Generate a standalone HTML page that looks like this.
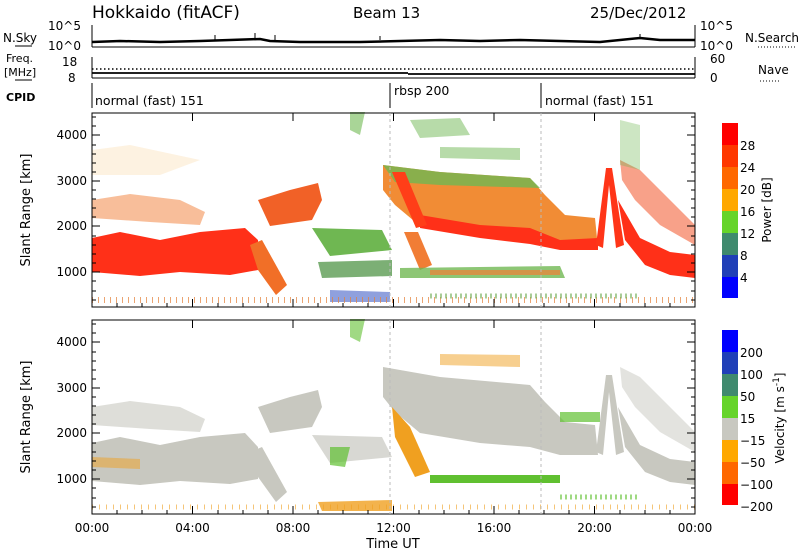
<!DOCTYPE html>
<html><head><meta charset="utf-8"><style>
body{margin:0;background:#fff;}
svg{display:block;font-family:"DejaVu Sans","Liberation Sans",sans-serif;}
</style></head><body>
<svg width="800" height="554" viewBox="0 0 800 554" xmlns="http://www.w3.org/2000/svg">
<defs>
<g id="blobs">
 <!-- clutter near ground -->
 <path d="M92,300 H695" stroke="#e07020" stroke-width="6" stroke-dasharray="1 6" opacity="0.7"/>
 <path d="M300,296 H400 M560,296 H640" stroke="#c8a040" stroke-width="4" stroke-dasharray="2 4" opacity="0.6"/>
</g>
</defs>

<!-- Titles -->
<text x="92" y="18" font-size="17">Hokkaido (fitACF)</text>
<text x="353" y="18" font-size="15">Beam 13</text>
<text x="590" y="18" font-size="15">25/Dec/2012</text>

<!-- N.Sky panel -->
<g font-size="12" fill="#000">
<text x="3" y="42">N.Sky</text><line x1="15" y1="46" x2="32" y2="46" stroke="#000"/>
<text x="48" y="30">10^5</text><text x="48" y="50">10^0</text>
<text x="6" y="62" font-size="11">Freq.</text><text x="4" y="76" font-size="11">[MHz]</text><line x1="15" y1="80" x2="32" y2="80" stroke="#000"/>
<text x="62" y="66">18</text><text x="68" y="82">8</text>
<text x="6" y="101" font-weight="bold" font-size="11">CPID</text>
<text x="700" y="30">10^5</text><text x="700" y="50">10^0</text>
<text x="710" y="63">60</text><text x="710" y="82">0</text>
<text x="745" y="42">N.Search</text>
<line x1="758" y1="47" x2="795" y2="47" stroke="#000" stroke-dasharray="1 2"/>
<text x="758" y="74">Nave</text>
<line x1="760" y1="81" x2="780" y2="81" stroke="#000" stroke-dasharray="1 2"/>
</g>
<line x1="92" y1="25" x2="92" y2="47" stroke="#000"/>
<line x1="695" y1="25" x2="695" y2="47" stroke="#000"/>
<line x1="92" y1="47" x2="695" y2="47" stroke="#000"/>
<path d="M92,42 L120,41 L160,42 L200,41 L230,40 L260,39 L270,41 L300,42 L360,42 L400,41 L440,40 L480,41 L520,40 L560,41 L600,42 L620,40 L640,38 L660,40 L695,40" fill="none" stroke="#000" stroke-width="2.5"/>
<path d="M215,40V35 M255,40V33 M275,40V35 M380,40V36 M640,38V34" stroke="#000"/>
<line x1="92" y1="57" x2="92" y2="78" stroke="#000"/>
<line x1="695" y1="57" x2="695" y2="78" stroke="#000"/>
<line x1="92" y1="78" x2="695" y2="78" stroke="#000"/>
<line x1="92" y1="69" x2="695" y2="69" stroke="#000" stroke-dasharray="1.5 2.5" stroke-width="1.5"/>
<path d="M92,73 H408 M408,74 H695" stroke="#000" stroke-width="1.8"/>
<!-- CPID -->
<line x1="92" y1="83" x2="92" y2="108" stroke="#000"/>
<line x1="390" y1="83" x2="390" y2="108" stroke="#000"/>
<line x1="541" y1="83" x2="541" y2="108" stroke="#000"/>
<g font-size="12.5"><text x="95" y="105">normal (fast) 151</text><text x="394" y="95">rbsp 200</text><text x="545" y="105">normal (fast) 151</text></g>

<!-- ===== Top power panel ===== -->
<g>
 <g opacity="0.9">
 <path d="M92,200 L130,194 L180,200 L205,212 L200,225 L150,222 L92,218Z" fill="#f07020" opacity="0.5"/>
 <path d="M92,150 L130,145 L200,160 L160,175 L92,175Z" fill="#f0a020" opacity="0.15"/>
 <path d="M92,238 L120,232 L160,240 L200,232 L245,228 L258,240 L258,270 L230,275 L180,272 L140,276 L92,272Z" fill="#ff1a00"/>
 <path d="M258,200 L290,190 L318,183 L322,200 L312,220 L270,226Z" fill="#f05010"/>
 <path d="M250,245 L262,240 L287,285 L276,295 L258,270Z" fill="#f06010"/>
 <path d="M312,228 L382,230 L392,250 L330,256Z" fill="#60b040"/>
 <path d="M318,262 L392,260 L392,276 L322,278Z" fill="#4a9040" opacity="0.8"/>
 <path d="M330,290 L390,292 L390,302 L330,302Z" fill="#3050c0" opacity="0.6"/>
 <path d="M350,112 L365,112 L360,135 L350,130Z" fill="#60b040" opacity="0.6"/>
 <path d="M410,120 L460,118 L470,135 L420,138Z" fill="#60b040" opacity="0.5"/>
 <path d="M440,147 L520,148 L520,160 L440,158Z" fill="#60b040" opacity="0.5"/>
 <path d="M383,165 L440,172 L530,178 L545,195 L565,215 L595,218 L598,248 L560,248 L530,240 L480,236 L420,226 L395,205 L383,190Z" fill="#f08020"/>
 <path d="M383,165 L440,172 L530,178 L540,188 L440,185 L395,182Z" fill="#60b040" opacity="0.8"/>
 <path d="M420,215 L480,225 L530,228 L560,240 L598,238 L598,250 L560,250 L530,244 L480,238 L420,228Z" fill="#ff1a00"/>
 <path d="M392,172 L405,172 L427,225 L416,228Z" fill="#ff2a00"/>
 <path d="M404,232 L418,232 L432,265 L420,270Z" fill="#f07020"/>
 <path d="M400,268 L560,266 L565,278 L400,278Z" fill="#60b040" opacity="0.8"/>
 <path d="M430,270 L560,270 L560,275 L430,275Z" fill="#f07020" opacity="0.7"/>
 <path d="M596,245 L606,168 L612,168 L624,245 L616,248 L609,185 L603,248Z" fill="#ff2000"/>
 <path d="M618,200 L640,238 L670,252 L695,255 L695,278 L670,275 L645,265 L625,240Z" fill="#ff1a00"/>
 <path d="M620,160 L640,170 L670,200 L695,225 L695,245 L660,225 L635,200 L622,180Z" fill="#f04010" opacity="0.55"/>
 <path d="M620,120 L640,125 L640,170 L620,165Z" fill="#60b040" opacity="0.35"/>
 <path d="M92,300 H695" stroke="#e07020" stroke-width="6" stroke-dasharray="1 5" opacity="0.7"/>
 <path d="M430,296 H640" stroke="#60a040" stroke-width="5" stroke-dasharray="2 3" opacity="0.6"/>
 </g>
 <rect x="92" y="113" width="603" height="194" fill="none" stroke="#000"/>
 <line x1="390" y1="113" x2="390" y2="307" stroke="#bbb" stroke-dasharray="3 3"/>
 <line x1="541" y1="113" x2="541" y2="307" stroke="#bbb" stroke-dasharray="3 3"/>
</g>

<!-- ===== Bottom velocity panel ===== -->
<g transform="translate(0,207)">
 <path d="M92,200 L130,194 L180,200 L205,212 L200,225 L150,222 L92,218Z" fill="#c8c8c0" opacity="0.6"/>
 <path d="M92,236 L120,230 L160,238 L200,230 L245,226 L258,240 L258,272 L230,277 L180,274 L140,278 L92,274Z" fill="#c8c8c0"/>
 <path d="M92,250 L140,252 L140,262 L92,260Z" fill="#f0a020" opacity="0.5"/>
 <path d="M258,200 L290,190 L318,183 L322,200 L312,220 L270,226Z" fill="#c8c8c0"/>
 <path d="M250,245 L262,240 L287,285 L276,295 L258,270Z" fill="#c8c8c0"/>
 <path d="M312,228 L382,230 L392,250 L330,256Z" fill="#c8c8c0" opacity="0.7"/>
 <path d="M330,240 L350,240 L345,260 L330,258Z" fill="#60c030" opacity="0.7"/>
 <path d="M318,295 L392,293 L392,304 L322,304Z" fill="#f0a020" opacity="0.8"/>
 <path d="M350,112 L365,112 L360,135 L350,130Z" fill="#60c030" opacity="0.6"/>
 <path d="M440,147 L520,148 L520,160 L440,158Z" fill="#f0a020" opacity="0.5"/>
 <path d="M383,160 L440,170 L530,178 L545,195 L565,215 L595,218 L598,248 L560,248 L530,240 L480,236 L420,226 L395,205 L383,190Z" fill="#c8c8c0"/>
 <path d="M560,205 L600,205 L600,215 L560,215Z" fill="#60c030" opacity="0.7"/>
 <path d="M392,200 L410,220 L430,265 L415,270 L395,230Z" fill="#f0a020"/>
 <path d="M430,268 L560,268 L560,276 L430,276Z" fill="#60c030"/>
 <path d="M596,245 L606,168 L612,168 L624,245 L616,248 L609,185 L603,248Z" fill="#c8c8c0"/>
 <path d="M618,200 L640,238 L670,252 L695,255 L695,278 L670,275 L645,265 L625,240Z" fill="#c8c8c0"/>
 <path d="M620,160 L640,170 L670,200 L695,225 L695,245 L660,225 L635,200 L622,180Z" fill="#c8c8c0" opacity="0.5"/>
 <path d="M92,300 H695" stroke="#f0a020" stroke-width="5" stroke-dasharray="1 6" opacity="0.6"/>
 <path d="M560,290 H640" stroke="#60c030" stroke-width="5" stroke-dasharray="2 3" opacity="0.6"/>
 <rect x="92" y="113" width="603" height="194" fill="none" stroke="#000"/>
 <line x1="390" y1="113" x2="390" y2="307" stroke="#bbb" stroke-dasharray="3 3"/>
 <line x1="541" y1="113" x2="541" y2="307" stroke="#bbb" stroke-dasharray="3 3"/>
</g>

<!-- Axis ticks, generated statically -->
<g stroke="#000" stroke-width="1">
<path d="
M92,307v-8M192.5,307v-8M293,307v-8M393.5,307v-8M494,307v-8M594.5,307v-8
M92,113v8M192.5,113v8M293,113v8M393.5,113v8M494,113v8M594.5,113v8
M92,514v-8M192.5,514v-8M293,514v-8M393.5,514v-8M494,514v-8M594.5,514v-8M695,514v-8
M92,320v8M192.5,320v8M293,320v8M393.5,320v8M494,320v8M594.5,320v8
M117,307v-4M142,307v-4M167,307v-4M218,307v-4M243,307v-4M268,307v-4M318,307v-4M343,307v-4M368,307v-4M419,307v-4M444,307v-4M469,307v-4M519,307v-4M544,307v-4M569,307v-4M620,307v-4M645,307v-4M670,307v-4
M117,514v-4M142,514v-4M167,514v-4M218,514v-4M243,514v-4M268,514v-4M318,514v-4M343,514v-4M368,514v-4M419,514v-4M444,514v-4M469,514v-4M519,514v-4M544,514v-4M569,514v-4M620,514v-4M645,514v-4M670,514v-4
M92,272h8M92,226h8M92,181h8M92,135h8M695,272h-8M695,226h-8M695,181h-8M695,135h-8
M92,479h8M92,433h8M92,388h8M92,342h8M695,479h-8M695,433h-8M695,388h-8M695,342h-8
"/>
<path d="M695,300h-4M695,291h-4M695,281h-4M695,263h-4M695,254h-4M695,245h-4M695,236h-4M695,217h-4M695,208h-4M695,199h-4M695,190h-4M695,172h-4M695,163h-4M695,154h-4M695,145h-4M695,126h-4M695,117h-4
M92,300h4M92,291h4M92,281h4M92,263h4M92,254h4M92,245h4M92,236h4M92,217h4M92,208h4M92,199h4M92,190h4M92,172h4M92,163h4M92,154h4M92,145h4M92,126h4M92,117h4"/>
<path transform="translate(0,207)" d="M695,300h-4M695,291h-4M695,281h-4M695,263h-4M695,254h-4M695,245h-4M695,236h-4M695,217h-4M695,208h-4M695,199h-4M695,190h-4M695,172h-4M695,163h-4M695,154h-4M695,145h-4M695,126h-4M695,117h-4
M92,300h4M92,291h4M92,281h4M92,263h4M92,254h4M92,245h4M92,236h4M92,217h4M92,208h4M92,199h4M92,190h4M92,172h4M92,163h4M92,154h4M92,145h4M92,126h4M92,117h4"/>
</g>
<g font-size="12" text-anchor="end">
<text x="87" y="276">1000</text><text x="87" y="230">2000</text><text x="87" y="185">3000</text><text x="87" y="139">4000</text>
<text x="87" y="483">1000</text><text x="87" y="437">2000</text><text x="87" y="392">3000</text><text x="87" y="346">4000</text>
</g>
<text transform="translate(30,210) rotate(-90)" font-size="13" text-anchor="middle">Slant Range [km]</text>
<text transform="translate(30,417) rotate(-90)" font-size="13" text-anchor="middle">Slant Range [km]</text>
<g font-size="12" text-anchor="middle">
<text x="92" y="532">00:00</text><text x="192.5" y="532">04:00</text><text x="293" y="532">08:00</text><text x="393.5" y="532">12:00</text><text x="494" y="532">16:00</text><text x="594.5" y="532">20:00</text><text x="695" y="532">00:00</text>
<text x="393" y="548" font-size="13">Time UT</text>
</g>

<!-- Power colorbar -->
<g stroke="none">
<rect x="722" y="123" width="16" height="22" fill="#ff0000"/>
<rect x="722" y="145" width="16" height="22" fill="#ff3800"/>
<rect x="722" y="167" width="16" height="22" fill="#ff6800"/>
<rect x="722" y="189" width="16" height="22" fill="#ffa800"/>
<rect x="722" y="211" width="16" height="22" fill="#66d42a"/>
<rect x="722" y="233" width="16" height="22" fill="#3f8a6e"/>
<rect x="722" y="255" width="16" height="22" fill="#2040b8"/>
<rect x="722" y="277" width="16" height="21" fill="#0000ff"/>
</g>
<g font-size="12">
<text x="740" y="150">28</text><text x="740" y="172">24</text><text x="740" y="194">20</text><text x="740" y="216">16</text><text x="740" y="238">12</text><text x="740" y="260">8</text><text x="740" y="282">4</text>
</g>
<text transform="translate(771,210) rotate(-90)" font-size="12" text-anchor="middle">Power [dB]</text>

<!-- Velocity colorbar -->
<rect x="722" y="330" width="16" height="22" fill="#0000ff"/>
<rect x="722" y="352" width="16" height="22" fill="#2040b8"/>
<rect x="722" y="374" width="16" height="22" fill="#3f8a6e"/>
<rect x="722" y="396" width="16" height="22" fill="#66d42a"/>
<rect x="722" y="418" width="16" height="22" fill="#c8c8c0"/>
<rect x="722" y="440" width="16" height="22" fill="#ffa800"/>
<rect x="722" y="462" width="16" height="22" fill="#ff6800"/>
<rect x="722" y="484" width="16" height="21" fill="#ff0000"/>
<g font-size="12">
<text x="740" y="357">200</text><text x="740" y="379">100</text><text x="740" y="401">50</text><text x="740" y="423">15</text><text x="740" y="445">−15</text><text x="740" y="467">−50</text><text x="740" y="489">−100</text><text x="740" y="511">−200</text>
</g>
<text transform="translate(784,418) rotate(-90)" font-size="12" text-anchor="middle">Velocity [m s<tspan dy="-5" font-size="9">-1</tspan><tspan dy="5">]</tspan></text>
</svg>
</body></html>
